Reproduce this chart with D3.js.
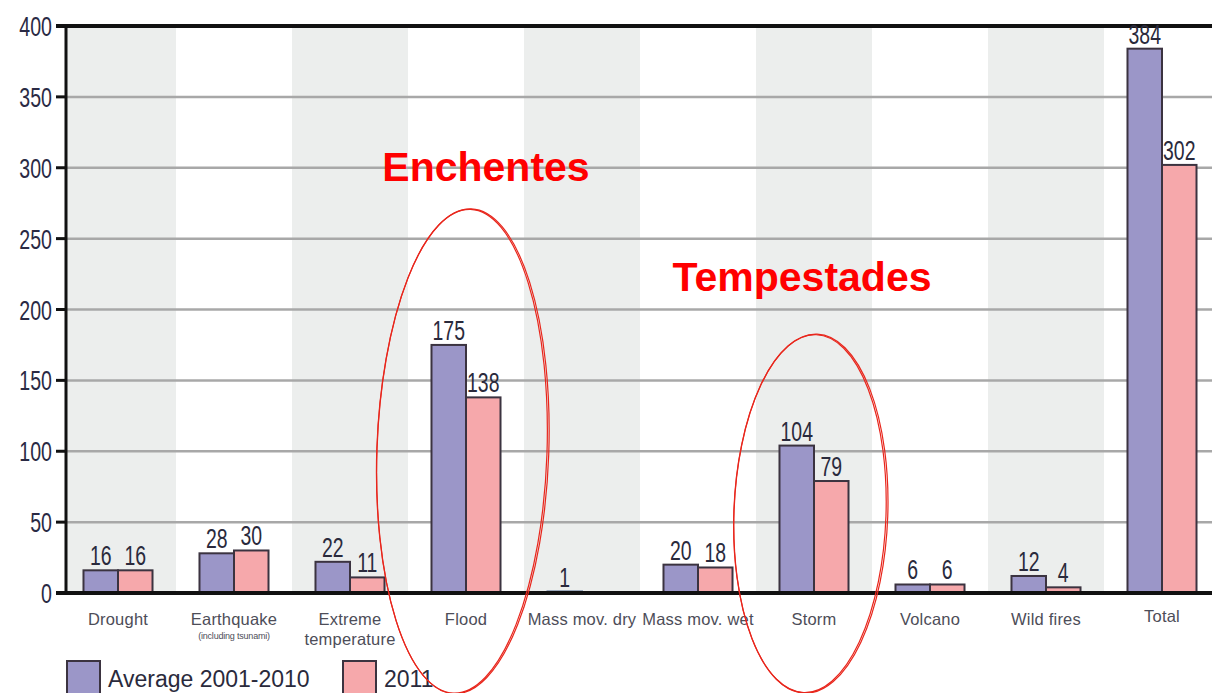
<!DOCTYPE html>
<html>
<head>
<meta charset="utf-8">
<script src="https://cdn.jsdelivr.net/npm/d3@7/dist/d3.min.js"></script>
<style>
  html, body { margin: 0; padding: 0; background: #fff; overflow: hidden; }
  svg { display: block; }
</style>
</head>
<body>
<svg id="chart" width="1212" height="693"></svg>
<script>
// ---- data ----
const categories = ["Drought", "Earthquake", "Extreme temperature", "Flood", "Mass mov. dry",
                    "Mass mov. wet", "Storm", "Volcano", "Wild fires", "Total"];
const categoryLines = [["Drought"], ["Earthquake"], ["Extreme", "temperature"], ["Flood"], ["Mass mov. dry"],
                       ["Mass mov. wet"], ["Storm"], ["Volcano"], ["Wild fires"], ["Total"]];
const categoryNotes = ["", "(including tsunami)", "", "", "", "", "", "", "", ""];
const seriesNames = ["Average 2001-2010", "2011"];
const average = [16, 28, 22, 175, 1, 20, 104, 6, 12, 384];
const y2011 = [16, 30, 11, 138, null, 18, 79, 6, 4, 302];
const yTicks = [0, 50, 100, 150, 200, 250, 300, 350, 400];
const annotations = [
  { text: "Enchentes", category: "Flood" },
  { text: "Tempestades", category: "Storm" }
];

// ---- layout ----
const W = 1212, H = 693;
const axisX = 66, yTop = 26, yBottom = 593;
const colors = ["#9b96c8", "#f6a8ab"];
const narrow = "'Liberation Sans', Arial, sans-serif";
const svg = d3.select("#chart");

const x = d3.scaleBand().domain(categories).range([60, 1220]).paddingInner(0.405).paddingOuter(0.2025);
const x1 = d3.scaleBand().domain(seriesNames).range([0, x.bandwidth()]).padding(0);
const y = d3.scaleLinear().domain([0, 400]).range([yBottom, yTop]);
const step = x.step();

// alternating background bands
svg.append("g").selectAll("rect")
  .data(categories.filter((d, i) => i % 2 === 0))
  .join("rect")
  .attr("x", d => Math.max(axisX, x(d) - (step - x.bandwidth()) / 2))
  .attr("width", d => {
    const l = x(d) - (step - x.bandwidth()) / 2;
    return Math.min(W, l + step) - Math.max(axisX, l);
  })
  .attr("y", yTop).attr("height", yBottom - yTop)
  .attr("fill", "#eceeed");

// grid lines
svg.append("g").selectAll("line")
  .data(yTicks.filter(t => t > 0 && t < 400))
  .join("line")
  .attr("x1", axisX).attr("x2", W)
  .attr("y1", d => y(d)).attr("y2", d => y(d))
  .attr("stroke", "#a8a8a8").attr("stroke-width", 2.5);

// top line
svg.append("line").attr("x1", 56).attr("x2", W).attr("y1", y(400)).attr("y2", y(400))
  .attr("stroke", "#111").attr("stroke-width", 4);

// bars
const rows = categories.map((c, i) => ({ c, vals: [average[i], y2011[i]] }));
const gBars = svg.append("g");
rows.forEach(r => {
  r.vals.forEach((v, j) => {
    if (v === null) return;
    const bx = x(r.c) + x1(seriesNames[j]);
    gBars.append("rect")
      .attr("x", bx).attr("width", x1.bandwidth())
      .attr("y", y(v)).attr("height", Math.max(1.5, y(0) - y(v)))
      .attr("fill", colors[j])
      .attr("stroke", v <= 1 ? "#2f4a7a" : "#3b3340").attr("stroke-width", 2);
    gBars.append("text")
      .attr("transform", `translate(${bx + x1.bandwidth() / 2},${y(v) - 5}) scale(0.72,1)`)
      .attr("text-anchor", "middle")
      .attr("font-family", narrow)
      .attr("font-size", 27)
      .attr("fill", "#2a2a3c")
      .text(v);
  });
});

// axes
const yAxis = svg.append("g");
yAxis.append("line").attr("x1", axisX).attr("x2", axisX).attr("y1", yTop - 2).attr("y2", yBottom + 2)
  .attr("stroke", "#111").attr("stroke-width", 3);
yAxis.selectAll("line.tick").data(yTicks).join("line").attr("class", "tick")
  .attr("x1", 56).attr("x2", axisX).attr("y1", d => y(d)).attr("y2", d => y(d))
  .attr("stroke", "#111").attr("stroke-width", 3);
yAxis.selectAll("text").data(yTicks).join("text")
  .attr("transform", d => `translate(52,${y(d) + 10}) scale(0.7,1)`)
  .attr("text-anchor", "end")
  .attr("font-family", narrow)
  .attr("font-size", 28)
  .attr("fill", "#2a2a44")
  .text(d => d);

svg.append("line").attr("x1", 56).attr("x2", W).attr("y1", yBottom).attr("y2", yBottom)
  .attr("stroke", "#111").attr("stroke-width", 4);

// category labels
const gCat = svg.append("g").attr("font-family", "'Liberation Sans', Arial, sans-serif").attr("fill", "#4d4d58");
categories.forEach((c, i) => {
  const cx = x(c) + x.bandwidth() / 2;
  categoryLines[i].forEach((ln, k) => {
    gCat.append("text").attr("x", cx).attr("y", (c === "Total" ? 622 : 625) + k * 20)
      .attr("text-anchor", "middle").attr("font-size", 16.5).attr("letter-spacing", 0.2)
      .text(ln);
  });
  if (categoryNotes[i]) {
    gCat.append("text").attr("x", cx).attr("y", 639)
      .attr("text-anchor", "middle").attr("font-size", 9).attr("letter-spacing", -0.2)
      .text(categoryNotes[i]);
  }
});

// legend
const legend = svg.append("g");
const legendX = [67, 343];
seriesNames.forEach((s, j) => {
  legend.append("rect").attr("x", legendX[j]).attr("y", 661).attr("width", 33).attr("height", 40)
    .attr("fill", colors[j]).attr("stroke", "#3b3340").attr("stroke-width", 2);
  legend.append("text").attr("x", legendX[j] + 41).attr("y", 687)
    .attr("font-family", "'Liberation Sans', Arial, sans-serif").attr("font-size", 23)
    .attr("fill", "#2a2a3c").text(s);
});

// annotations
const ann = svg.append("g");
const fl = x("Flood") + x.bandwidth() / 2;
const st = x("Storm") + x.bandwidth() / 2;
const ells = [
  { cx: fl - 4, cy: y(100), rx: 85, ry: 242, rot: 2 },
  { cx: st - 4, cy: y(56), rx: 76, ry: 179, rot: 2 }
];
ells.forEach(e => {
  [0, 2].forEach(off => {
    ann.append("ellipse")
      .attr("cx", 0).attr("cy", 0).attr("rx", e.rx + off * 0.5).attr("ry", e.ry + off * 0.3)
      .attr("transform", `translate(${e.cx + off * 0.4},${e.cy}) rotate(${e.rot})`)
      .attr("fill", "none").attr("stroke", "#e8261c").attr("stroke-width", 1.2);
  });
});
ann.append("text").attr("x", fl + 20).attr("y", y(291)).attr("text-anchor", "middle")
  .attr("font-family", "'Liberation Sans', Arial, sans-serif").attr("font-weight", "bold")
  .attr("font-size", 41).attr("fill", "#ff0000").text(annotations[0].text);
ann.append("text").attr("x", st - 12).attr("y", y(213)).attr("text-anchor", "middle")
  .attr("font-family", "'Liberation Sans', Arial, sans-serif").attr("font-weight", "bold")
  .attr("font-size", 41).attr("fill", "#ff0000").text(annotations[1].text);
</script>
</body>
</html>
